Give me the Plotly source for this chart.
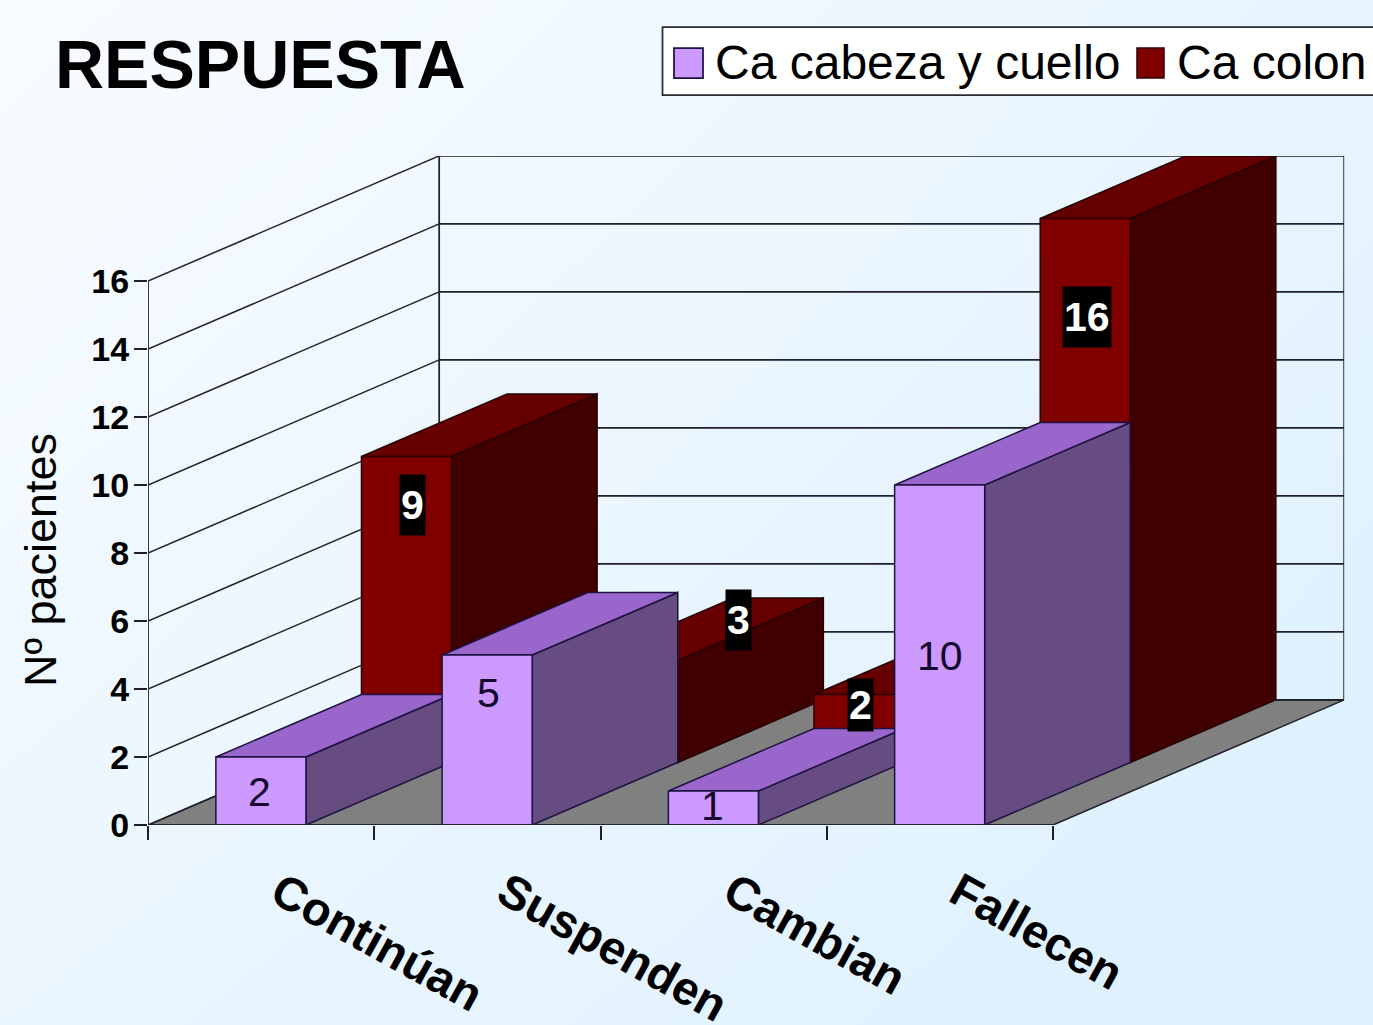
import plotly.graph_objects as go

# ---- data -------------------------------------------------------------
categories = ["Continúan", "Suspenden", "Cambian", "Fallecen"]
head_neck = [2, 5, 1, 10]
colon = [9, 3, 2, 16]
y_ticks = [0, 2, 4, 6, 8, 10, 12, 14, 16]
series_names = ["Ca cabeza y cuello", "Ca colon"]
y_title = "Nº pacientes"

# label anchor points, in axis units (category position, value height)
head_label_x = [0.495, 1.503, 2.493, 3.5]
head_label_y = [0.97, 3.88, 0.55, 4.97]
colon_label_x = [1.167, 2.608, 3.147, 4.15]
colon_label_y = [9.41, 6.03, 3.52, 14.94]
colon_label_box = [58, 58, 50, 58]

# ---- oblique projection, axis units -----------------------------------
DEPTH_X, DEPTH_Y = 1.287, 3.68     # full floor depth
BAR_LEFT, BAR_W = 0.3, 0.398

W, H = 1373, 1025
PX_L, PX_R, PX_B, PX_T = 148, 1053, 825, 281
UNIT_X = (PX_R - PX_L) / 4
UNIT_Y = (PX_B - PX_T) / 16

LINE = "#20202A"
PURPLE = dict(front="#CC99FF", top="#9966CC", side="#664C80", edge="#1E1240")
RED = dict(front="#800000", top="#660000", side="#400000", edge="#260000")

fig = go.Figure()

# page background gradient
fig.add_trace(go.Heatmap(
    z=[[0.5, 1.0], [0.0, 0.62]], x=[0, 1], y=[0, 1], xaxis="x", yaxis="y",
    zsmooth="best", showscale=False, hoverinfo="skip",
    zmin=0, zmax=1, colorscale=[[0, "#F9FCFF"], [1, "#DCF0FF"]],
))


def poly(xs, ys, fill, line, width=1.5, closed=True):
    if closed:
        xs, ys = xs + xs[:1], ys + ys[:1]
    fig.add_trace(go.Scatter(
        x=xs, y=ys, xaxis="x2", yaxis="y2", mode="lines",
        fill="toself" if fill else None, fillcolor=fill,
        line=dict(color=line, width=width),
        cliponaxis=False, showlegend=False, hoverinfo="skip",
    ))


# floor
poly([0, 4, 4 + DEPTH_X, DEPTH_X], [0, 0, DEPTH_Y, DEPTH_Y], "#808080", LINE)
# walls and gridlines
for v in y_ticks:
    poly([0, DEPTH_X], [v, v + DEPTH_Y], None, LINE, 1.5, closed=False)
    poly([DEPTH_X, 4 + DEPTH_X], [v + DEPTH_Y] * 2, None, LINE, 1.75, closed=False)
top_v = y_ticks[-1] + DEPTH_Y
poly([DEPTH_X, DEPTH_X], [DEPTH_Y, top_v], None, LINE, 1.75, closed=False)
poly([4 + DEPTH_X] * 2, [DEPTH_Y, top_v], None, LINE, 1.75, closed=False)


def bar(cat, value, slot, c):
    x0 = cat + BAR_LEFT + DEPTH_X * slot / 2
    x1 = x0 + BAR_W
    y0 = DEPTH_Y * slot / 2
    dx, dy = DEPTH_X / 2, DEPTH_Y / 2
    yt = y0 + value
    poly([x1, x1 + dx, x1 + dx, x1], [y0, y0 + dy, yt + dy, yt], c["side"], c["edge"])
    poly([x0, x1, x1 + dx, x0 + dx], [yt, yt, yt + dy, yt + dy], c["top"], c["edge"])
    poly([x0, x1, x1, x0], [y0, y0, yt, yt], c["front"], c["edge"])


for i, v in enumerate(colon):
    bar(i, v, 1, RED)
for i, v in enumerate(head_neck):
    bar(i, v, 0, PURPLE)

# axis lines (axes themselves are wider, to hold the depth of the box)
poly([0, 4], [0, 0], None, LINE, 1.75, closed=False)
poly([0, 0], [0, y_ticks[-1]], None, LINE, 1.75, closed=False)

annotations = []
for x, y, v in zip(head_label_x, head_label_y, head_neck):
    annotations.append(dict(x=x, y=y, xref="x2", yref="y2", text=str(v), showarrow=False,
                            font=dict(family="Liberation Sans", size=41, color="#14082E")))
for x, y, v, h in zip(colon_label_x, colon_label_y, colon, colon_label_box):
    annotations.append(dict(x=x, y=y, xref="x2", yref="y2", text=f"<b>{v}</b>", showarrow=False,
                            bgcolor="#000000", borderpad=1, height=h,
                            font=dict(family="Liberation Sans", size=41, color="#FFFFFF")))

# y axis title
annotations.append(dict(x=40 / W, y=1 - 560 / H, xref="paper", yref="paper",
                        xanchor="center", yanchor="middle",
                        text=y_title, textangle=-90, showarrow=False,
                        font=dict(family="Liberation Sans", size=45, color="#000000")))

# legend box
LEG_TOP, LEG_BOT = 1 - 27 / H, 1 - 95 / H
shapes = [
    dict(type="rect", xref="paper", yref="paper", x0=662.5 / W, x1=1400 / W, y0=LEG_BOT, y1=LEG_TOP,
         fillcolor="#FFFFFF", line=dict(color="#2A2A35", width=1.75)),
    dict(type="rect", xref="paper", yref="paper", x0=674 / W, x1=703 / W, y0=1 - 78 / H, y1=1 - 48 / H,
         fillcolor=PURPLE["front"], line=dict(color="#1E1240", width=1.75)),
    dict(type="rect", xref="paper", yref="paper", x0=1137 / W, x1=1164 / W, y0=1 - 78 / H, y1=1 - 48 / H,
         fillcolor=RED["front"], line=dict(color="#300000", width=1.5)),
]
for name, px in zip(series_names, [713, 1175]):
    annotations.append(dict(x=px / W, y=1 - 62 / H, xref="paper", yref="paper", xanchor="left",
                            yanchor="middle", text=name, showarrow=False, align="left",
                            font=dict(family="Liberation Sans", size=48, color="#000000")))

fig.update_layout(
    template="none",
    width=W, height=H, margin=dict(l=0, r=0, t=0, b=0, pad=0), autosize=False,
    paper_bgcolor="#EEF7FF", plot_bgcolor="rgba(0,0,0,0)", showlegend=False,
    title=dict(text="<b>RESPUESTA</b>", x=55 / W, xanchor="left", y=1 - 64 / H, yanchor="middle",
               font=dict(family="Liberation Sans", size=68, color="#000000")),
    xaxis=dict(domain=[0, 1], range=[0, 1], visible=False, fixedrange=True, automargin=False),
    yaxis=dict(domain=[0, 1], range=[0, 1], visible=False, fixedrange=True, automargin=False),
    xaxis2=dict(
        domain=[PX_L / W, (PX_L + UNIT_X * (4 + DEPTH_X)) / W], range=[0, 4 + DEPTH_X], anchor="y2",
        showgrid=False, zeroline=False, showline=False, automargin=False,
        tickmode="array", tickvals=[i + 0.58 for i in range(4)], ticktext=[f"<b>{c}</b>" for c in categories],
        ticks="", tickangle=29, ticklabelstandoff=30,
        tickfont=dict(family="Liberation Sans", size=47, color="#000000"),
        minor=dict(tickmode="array", tickvals=[0, 1, 2, 3, 4], ticks="outside", ticklen=14,
                   tickcolor=LINE, tickwidth=1.75, showgrid=False),
    ),
    yaxis2=dict(
        domain=[1 - PX_B / H, 1 - (PX_B - UNIT_Y * (16 + DEPTH_Y)) / H], range=[0, 16 + DEPTH_Y], anchor="x2",
        showgrid=False, zeroline=False, showline=False, automargin=False,
        tickmode="array", tickvals=y_ticks, ticktext=[f"<b>{v}</b>" for v in y_ticks],
        ticks="outside", ticklen=13, tickcolor=LINE, tickwidth=1.75, ticklabelstandoff=-2,
        tickfont=dict(family="Liberation Sans", size=34, color="#000000"),
    ),
    shapes=shapes, annotations=annotations,
)

fig.write_html("out.html", config=dict(displayModeBar=False),
               post_script="document.body.style.margin='0';document.body.style.overflow='hidden';")
